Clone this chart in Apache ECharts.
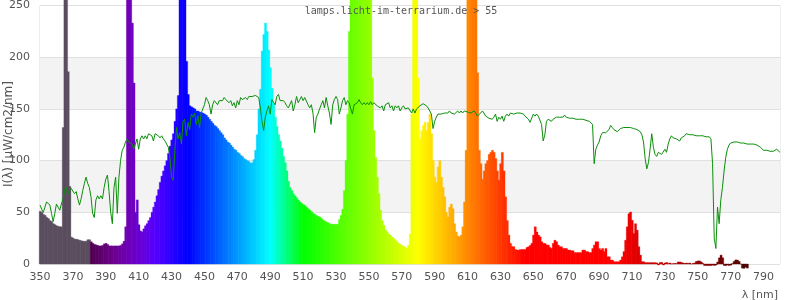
<!DOCTYPE html>
<html>
<head>
<meta charset="utf-8">
<script src="https://cdn.jsdelivr.net/npm/echarts@6/dist/echarts.min.js"></script>
<style>html,body{margin:0;padding:0;background:#fff}#c{width:800px;height:300px}</style>
</head>
<body>
<div id="c"></div>
<script>
// wavelengths start at 350 nm, 1 nm steps
const lambdaStart = 350;
const xTickMin = 350, xTickMax = 800, xTickStep = 20;
const yTickMin = 0, yTickMax = 250, yTickStep = 50;
const titleText = 'lamps.licht-im-terrarium.de > 55';
const yName = 'I(λ) [µW/cm2/nm]';
const xName = 'λ [nm]';

// lamp spectrum, 350..780 nm
const lamp = [
  51, 50, 48, 47, 45, 44, 42, 41, 39, 38,
  37, 36.5, 36, 36, 132, 450, 450, 186, 75, 26,
  25, 24, 24, 23.5, 23, 22.5, 22, 22, 22, 23.5,
  23.5, 21.5, 20, 19, 18.5, 18, 17.5, 17.5, 18, 19.5,
  20, 19, 17.5, 17.5, 17.5, 17.5, 17.5, 17.5, 17.5, 18,
  19.5, 22, 36, 450, 600, 450, 233, 175, 50, 62,
  38, 32, 31, 34, 37, 39, 42, 45, 50, 55,
  60, 66, 72, 79, 85, 90, 95, 100, 107, 114,
  120, 126, 138, 150, 163, 450, 600, 600, 400, 196,
  164, 153, 152, 151, 150, 148, 148, 147, 146.5, 146,
  145, 144, 142, 140, 138, 136, 134, 133, 131, 129,
  127, 125, 122, 120, 118, 117, 115, 113, 111, 110,
  108, 107, 105, 104, 102, 101, 100, 99, 97.5, 98,
  101, 110, 125, 150, 169, 206, 222, 233, 225, 207,
  190, 170, 155, 142, 133, 125, 119, 112, 104, 98,
  90, 80, 74, 71, 68, 66, 64, 62, 60, 58.5,
  57.5, 56.5, 55, 53.5, 52, 50.5, 49, 48, 47, 46,
  45.5, 44, 42.5, 41.5, 40.7, 40, 39, 38.5, 38.4, 38.4,
  38.4, 38.4, 43, 47, 53, 71, 100, 145, 225, 400,
  500, 500, 500, 500, 500, 500, 500, 500, 500, 500,
  500, 300, 180, 129, 103, 84, 68, 52, 42, 37.5,
  33, 31, 29, 28, 26, 24.7, 23, 21.5, 20, 19.2,
  18, 17.3, 16, 15, 18.3, 29, 145, 500, 600, 500,
  180, 121, 129, 134, 137, 129, 137, 145, 126, 100,
  84, 79, 94, 100, 84, 74, 65, 50, 45.5, 55,
  58, 53.5, 39, 31, 27, 26.3, 28, 36, 60, 110,
  500, 600, 600, 600, 600, 500, 185, 110, 97, 82,
  90, 97, 100, 106, 108, 110, 108, 102, 90, 81,
  97, 108, 90, 65, 42, 28, 20, 17, 16.7, 14,
  13.5, 13.5, 14, 14, 14, 14, 16, 16.7, 18, 20,
  28, 36, 31, 28, 26.3, 21.5, 20, 19.8, 18.5, 18.3,
  16, 15, 20, 23, 21.5, 18.3, 16.7, 16.7, 15, 15,
  15, 13.5, 13.5, 12.8, 12.8, 11, 11, 11, 11, 11,
  13.5, 13.5, 12, 11.9, 11, 11, 15, 18.3, 21.5, 21.5,
  15, 13.5, 15, 12, 15, 7, 7, 3.8, 3.8, 2.2,
  2.2, 2.2, 2.2, 3.8, 7, 12, 23, 36, 48.7, 50.3,
  42.3, 29.5, 39, 32.7, 16.7, 8.6, 2.2, 2.2, 1.3, 1.3,
  1.3, 1.3, 1.3, 1.3, 1.3, 1, -1, 1.5, 1.5, -1,
  1, 1.5, 0.5, 1, 0, 0.5, 0.5, 0.5, 2, 2,
  1.5, 1, 0.5, 1, 0.5, 1, 0, 0.5, 1, 2.5,
  3, 3, 2, 0.5, -1.5, -1.5, -1.5, -1.5, -1.5, -1,
  -1.5, -1, 2, 6, 8.6, 6, -1.5, -1.5, -1, -1.5,
  -1, 0.5, 2.5, 4, 3.8, 2.5, 0, -4, -4.2, -3, -4
];

// daylight reference curve, 350..800 nm
const daylight = [
  57, 53, 50, 55, 60, 61, 57, 49, 41, 49,
  58, 55, 52, 58, 63, 71, 74, 68, 71, 73,
  74, 68, 70, 63, 57, 63, 71, 78, 84, 78,
  74, 65, 49, 45, 62, 66, 63, 66, 63, 74,
  82, 86, 70, 50, 39, 74, 84, 49, 84, 100,
  110, 113, 118, 121, 118, 118, 116, 111, 116, 121,
  111, 121, 124, 121, 124, 121, 126, 127, 124, 119,
  126, 127, 124, 122, 124, 121, 119, 118, 113, 103,
  84, 81, 110, 132, 121, 127, 116, 138, 140, 124,
  137, 130, 145, 142, 146, 135, 143, 132, 146, 150,
  154, 161, 158, 154, 145, 154, 158, 159, 154, 158,
  159, 158, 161, 159, 158, 156, 158, 153, 156, 151,
  158, 154, 161, 159, 158, 161, 159, 162, 161, 162,
  162, 163, 162, 161, 151, 138, 129, 142, 148, 153,
  145, 159, 158, 154, 162, 164, 158, 159, 158, 156,
  153, 151, 151, 158, 148, 154, 162, 156, 159, 162,
  158, 161, 162, 154, 151, 154, 146, 127, 142, 145,
  150, 154, 158, 151, 161, 153, 146, 135, 154, 159,
  162, 159, 145, 151, 158, 161, 154, 158, 156, 150,
  145, 154, 153, 156, 159, 156, 154, 156, 154, 156,
  154, 157, 154, 156, 156, 153, 154, 151, 153, 148,
  154, 153, 156, 151, 153, 148, 153, 151, 153, 148,
  151, 153, 150, 150, 151, 150, 146, 150, 146, 150,
  151, 153, 154, 155, 154, 153, 151, 150, 145, 131,
  138, 142, 145, 146, 145, 146, 146, 145, 146, 148,
  146, 146, 145, 146, 148, 146, 148, 146, 148, 148,
  147, 146, 146, 145, 148, 146, 143, 142, 146, 148,
  146, 143, 142, 141, 142, 140, 142, 145, 138, 142,
  140, 143, 138, 143, 145, 143, 146, 146, 145, 145,
  146, 145, 146, 145, 145, 143, 142, 140, 137, 138,
  145, 143, 145, 143, 143, 135, 119, 125, 138, 140,
  140, 138, 140, 141, 142, 142, 142, 142, 142, 144,
  142, 141, 141, 141, 141, 140, 140, 140, 140, 140,
  140, 140, 139, 139, 138, 137, 135, 97, 111, 115,
  118, 124, 127, 126, 127, 127, 130, 134, 132, 130,
  129, 128, 128, 131, 132, 132, 132, 132, 132, 132,
  131, 131, 131, 130, 129, 128, 125, 118, 102, 92,
  98, 111, 126, 113, 106, 104, 108, 108, 106, 105,
  111, 108, 116, 121, 124, 122, 122, 121, 121, 119,
  122, 122, 124, 126, 125, 125, 125, 125, 124, 124,
  124, 124, 124, 124, 123, 123, 123, 123, 121, 97,
  25, 15, 55, 39, 62, 74, 90, 103, 111, 115,
  117, 118, 118, 118, 118, 118, 117, 117, 117, 117,
  116, 116, 116, 117, 116, 115, 115, 114, 113, 112,
  110, 110, 110, 110, 109, 109, 109, 110, 111, 110, 108
];

function specColor(l) {
  if (l < 381) return 'rgb(91,79,95)';
  let r = 0, g = 0, b = 0;
  if (l < 440) { r = (440 - l) / 60; b = 1; }
  else if (l < 490) { g = (l - 440) / 50; b = 1; }
  else if (l < 510) { g = 1; b = (510 - l) / 20; }
  else if (l < 580) { r = (l - 510) / 70; g = 1; }
  else if (l < 645) { r = 1; g = (645 - l) / 65; }
  else { r = 1; }
  let f = 1;
  if (l < 420) f = 0.3 + 0.7 * (l - 380) / 40;
  else if (l > 700) f = 0.3 + 0.7 * (780 - l) / 80;
  const c = v => Math.round(255 * v * f);
  return 'rgb(' + c(r) + ',' + c(g) + ',' + c(b) + ')';
}

const chart = echarts.init(document.getElementById('c'), null, {renderer: 'canvas'});
const labelFont = 'DejaVu Sans';
chart.setOption({
  animation: false,
  grid: {left: 40, right: 20, top: 4, bottom: 36, show: true, borderColor: '#dddddd', borderWidth: 1, backgroundColor: 'transparent'},
  xAxis: {
    type: 'value', min: xTickMin, max: xTickMax, interval: xTickStep,
    axisLine: {show: false}, axisTick: {show: false}, splitLine: {show: false},
    axisLabel: {color: '#545454', fontSize: 11, fontFamily: labelFont, margin: 8, showMaxLabel: false}
  },
  yAxis: {
    type: 'value', min: yTickMin, max: yTickMax, interval: yTickStep,
    axisLine: {show: false}, axisTick: {show: false},
    splitLine: {show: true, lineStyle: {color: '#e0e0e0', width: 1}},
    splitArea: {show: true, areaStyle: {color: ['#ffffff', '#f3f3f3']}},
    axisLabel: {color: '#545454', fontSize: 11, fontFamily: labelFont, margin: 10}
  },
  series: [
    {
      type: 'custom', clip: false, z: 2,
      data: lamp.map((v, i) => [lambdaStart + i, v]),
      encode: {x: 0, y: 1},
      renderItem: function (params, api) {
        const l = api.value(0), v = api.value(1);
        const p0 = api.coord([l - 0.5, 0]);
        const p1 = api.coord([l + 0.5, v]);
        const col = specColor(l);
        return {
          type: 'rect',
          shape: {x: p0[0], y: Math.min(p0[1], p1[1]), width: p1[0] - p0[0] + 0.5, height: Math.abs(p1[1] - p0[1])},
          style: {fill: col, stroke: col, lineWidth: 0.3}
        };
      },
      emphasis: {disabled: true}
    },
    {
      type: 'line', showSymbol: false, symbol: 'none', z: 3,
      data: daylight.map((v, i) => [lambdaStart + i, v]),
      lineStyle: {color: '#0a8f0a', width: 1}
    }
  ],
  graphic: [
    {type: 'text', x: 401, y: 11, z: 100, style: {text: titleText, font: '10px "DejaVu Sans Mono"', fill: '#555555', textAlign: 'center', textVerticalAlign: 'middle'}},
    {type: 'text', x: 9, y: 134, rotation: Math.PI / 2, z: 100, style: {text: yName, font: '12px "DejaVu Sans"', fill: '#545454', textAlign: 'center', textVerticalAlign: 'middle'}},
    {type: 'text', x: 778, y: 295, z: 100, style: {text: xName, font: '11px "DejaVu Sans"', fill: '#545454', textAlign: 'right', textVerticalAlign: 'middle'}}
  ]
});
</script>
</body>
</html>
